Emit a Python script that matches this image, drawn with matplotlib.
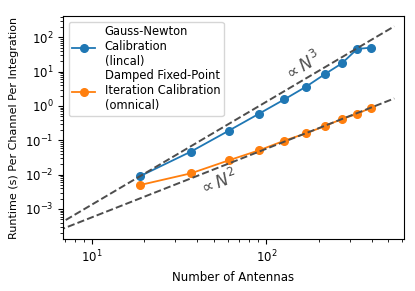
import numpy as np
import matplotlib
matplotlib.use("Agg")
import matplotlib.pyplot as plt

# antenna counts (hexagonal arrays) and runtimes
n_ant = [19, 37, 61, 91, 127, 169, 217, 271, 331, 397]
lincal_time = [0.0091, 0.0468, 0.191, 0.598, 1.56, 3.66, 8.55, 17.5, 45.7, 50.0]
omnical_time = [0.0050, 0.0109, 0.0261, 0.0512, 0.0977, 0.160, 0.261, 0.418, 0.585, 0.894]

lincal_label = "Gauss-Newton\nCalibration\n(lincal)"
omnical_label = "Damped Fixed-Point\nIteration Calibration\n(omnical)"


def main():
    plt.rcParams['font.size'] = 8.5
    fig = plt.figure(figsize=(4.15, 2.91), dpi=100)
    ax = fig.add_axes([0.152, 0.179, 0.821, 0.766])

    ax.plot(n_ant, lincal_time, 'o-', color='tab:blue', lw=1.3, ms=5.5, label=lincal_label)
    ax.plot(n_ant, omnical_time, 'o-', color='tab:orange', lw=1.3, ms=5.5, label=omnical_label)

    # scaling reference lines
    nn = np.logspace(np.log10(5), np.log10(540), 50)
    ax.plot(nn, lincal_time[0] * (nn / n_ant[0]) ** 3, '--', color='0.3', lw=1.4)
    ax.plot(nn, omnical_time[-1] * (nn / n_ant[-1]) ** 2, '--', color='0.3', lw=1.4)

    ax.set_xscale('log')
    ax.set_yscale('log')
    ax.set_xlim(6.86, 612)
    ax.set_ylim(1.34e-4, 417)

    ax.text(161, 13.5, r'$\propto N^3$', rotation=30.6, color='0.3', fontsize=12,
            ha='center', va='center', rotation_mode='anchor')
    ax.text(53, 0.0058, r'$\propto N^2$', rotation=21.5, color='0.3', fontsize=12,
            ha='center', va='center', rotation_mode='anchor')

    ax.set_xlabel('Number of Antennas')
    ax.set_ylabel('Runtime (s) Per Channel Per Integration', fontsize=8)
    ax.legend(loc='upper left', fontsize=8.3, labelspacing=0.1, borderpad=0.3)
    fig.savefig('out.png', dpi=100)


if __name__ == "__main__":
    main()
